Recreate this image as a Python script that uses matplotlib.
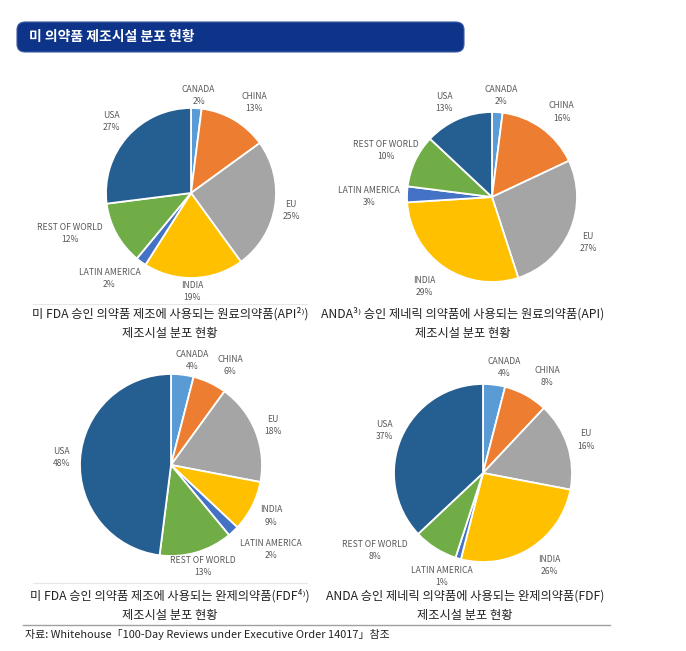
import matplotlib
matplotlib.use('Agg')
import matplotlib.pyplot as plt
from matplotlib.patches import FancyBboxPatch
from matplotlib.lines import Line2D

plt.rcParams['font.family'] = ['Noto Sans CJK KR', 'DejaVu Sans']

# Data
regions = ['CANADA', 'CHINA', 'EU', 'INDIA', 'LATIN AMERICA', 'REST OF WORLD', 'USA']
api_fda = [2, 13, 25, 19, 2, 12, 27]
api_anda = [2, 16, 27, 29, 3, 10, 13]
fdf_fda = [4, 6, 18, 9, 2, 13, 48]
fdf_anda = [4, 8, 16, 26, 1, 8, 37]

title = '미 의약품 제조시설 분포 현황'
captions = [
    ['미 FDA 승인 의약품 제조에 사용되는 원료의약품(API²⁾)', '제조시설 분포 현황'],
    ['ANDA³⁾ 승인 제네릭 의약품에 사용되는 원료의약품(API)', '제조시설 분포 현황'],
    ['미 FDA 승인 의약품 제조에 사용되는 완제의약품(FDF⁴⁾)', '제조시설 분포 현황'],
    ['ANDA 승인 제네릭 의약품에 사용되는 완제의약품(FDF)', '제조시설 분포 현황'],
]
source = '자료: Whitehouse「100-Day Reviews under Executive Order 14017」참조'

colors = ['#5b9bd5', '#ed7d31', '#a5a5a5', '#ffc000', '#4472c4', '#70ad47', '#255e91']

W, H = 686, 651

# layout: pie centre / radius in pixels, label positions in radius units
pies = [
    dict(values=api_fda, cx=191, cy=193, r=85,
         labels=[(0.09, 1.15), (0.74, 1.06), (1.18, -0.21), (0.01, -1.16),
                 (-0.96, -1.01), (-1.42, -0.48), (-0.94, 0.84)]),
    dict(values=api_anda, cx=492, cy=197, r=85,
         labels=[(0.11, 1.19), (0.82, 1.0), (1.13, -0.54), (-0.8, -1.05),
                 (-1.45, 0.01), (-1.25, 0.55), (-0.56, 1.11)]),
    dict(values=fdf_fda, cx=171, cy=465, r=91,
         labels=[(0.23, 1.15), (0.65, 1.09), (1.12, 0.43), (1.1, -0.56),
                 (1.1, -0.93), (0.35, -1.12), (-1.2, 0.08)]),
    dict(values=fdf_anda, cx=483, cy=473, r=89,
         labels=[(0.24, 1.19), (0.72, 1.08), (1.16, 0.37), (0.75, -1.04),
                 (-0.46, -1.16), (-1.21, -0.87), (-1.11, 0.48)]),
]
caption_pos = [(170, 314, 333), (463, 314, 333), (170, 596, 615), (465, 596, 615)]


def px(x, y):
    return x / W, 1 - y / H


fig = plt.figure(figsize=(W / 100, H / 100), dpi=100)

# Header bar
bar = FancyBboxPatch(px(17, 52), (464 - 17) / W, 30 / H,
                     boxstyle='round,pad=0,rounding_size=0.012',
                     transform=fig.transFigure, facecolor='#0d3489',
                     edgecolor='#3b5ba5', linewidth=0.8)
fig.patches.append(bar)
fig.text(*px(29, 37), title, color='white', fontsize=10, fontweight='bold',
         ha='left', va='center')

for p in pies:
    cx, cy, r = p['cx'], p['cy'], p['r']
    ax = fig.add_axes([(cx - r) / W, 1 - (cy + r) / H, 2 * r / W, 2 * r / H])
    ax.pie(p['values'], colors=colors, startangle=90, counterclock=False,
           radius=1, wedgeprops=dict(edgecolor='white', linewidth=1.3))
    ax.set_xlim(-1, 1)
    ax.set_ylim(-1, 1)
    ax.axis('off')
    for name, val, (lx, ly) in zip(regions, p['values'], p['labels']):
        ax.text(lx, ly, '%s\n%d%%' % (name, val), ha='center', va='center',
                fontsize=6.2, color='#595959', linespacing=1.45, clip_on=False)

for (x, y1, y2), (l1, l2) in zip(caption_pos, captions):
    fig.text(*px(x, y1), l1, ha='center', va='center', fontsize=8.8, color='#222222')
    fig.text(*px(x, y2), l2, ha='center', va='center', fontsize=8.8, color='#222222')

# faint lines above left captions
for y in (304, 583):
    fig.add_artist(Line2D([33 / W, 307 / W], [1 - y / H] * 2, color='#e6e6e6',
                          linewidth=0.8, transform=fig.transFigure))
# source separator
fig.add_artist(Line2D([23 / W, 610 / W], [1 - 625 / H] * 2, color='#a0a0a0',
                      linewidth=1.0, transform=fig.transFigure))
fig.text(*px(25, 635), source, ha='left', va='center', fontsize=7.9, color='#222222')

fig.savefig('out.png', dpi=100)
